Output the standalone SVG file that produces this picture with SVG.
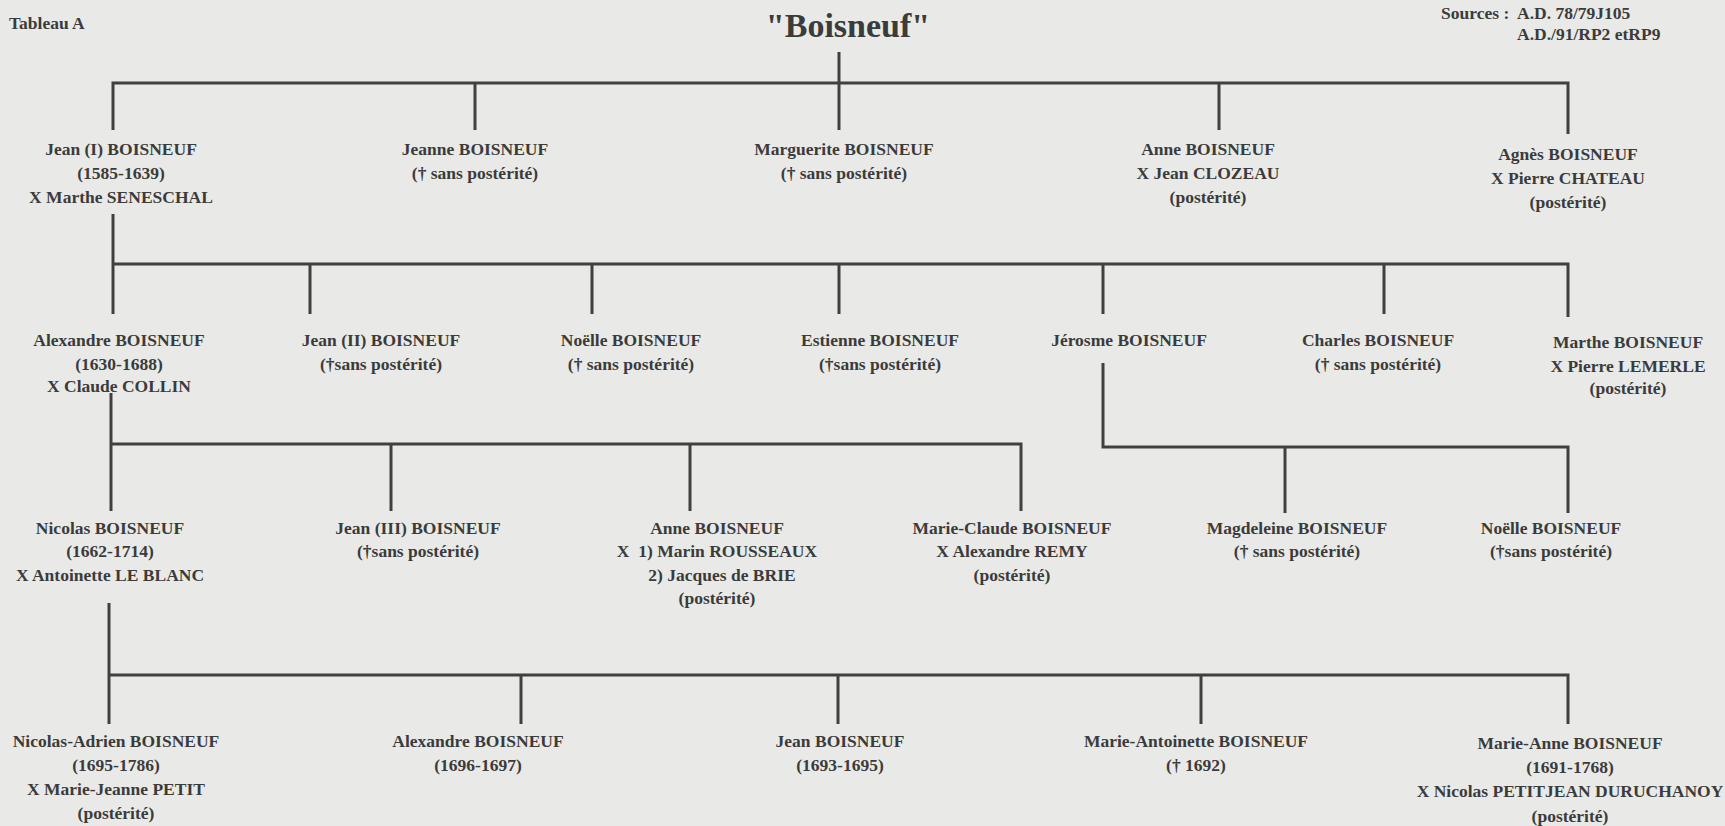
<svg xmlns="http://www.w3.org/2000/svg" width="1725" height="826" viewBox="0 0 1725 826">
<style>
.t{font-family:"Liberation Serif","Times New Roman",serif;font-weight:bold;font-size:17.5px;fill:#3b3b3b;text-anchor:middle}
.l{text-anchor:start}
.title{font-size:34px}
.c{stroke:#404040;stroke-width:3;fill:none}
</style>
<rect width="1725" height="826" fill="#e9eae7"/>
<text class="t l" x="9" y="29">Tableau A</text>
<text class="t title" x="848" y="37">"Boisneuf"</text>
<text class="t l" x="1441" y="19">Sources :</text>
<text class="t l" x="1517" y="19">A.D. 78/79J105</text>
<text class="t l" x="1517" y="40">A.D./91/RP2 etRP9</text>
<g id="connectors" class="c">
<path d="M839 52V130"/>
<path d="M113 130V83H1568V134"/>
<path d="M475 83V130M1219 83V130"/>
<path d="M113 214V314"/>
<path d="M113 264H1568V317"/>
<path d="M310 264V314M592 264V314M839 264V314M1103 264V314M1384 264V314"/>
<path d="M111 393V511"/>
<path d="M111 444H1021V511"/>
<path d="M391 444V511M690 444V511"/>
<path d="M1103 363V447H1568V513"/>
<path d="M1285 447V513"/>
<path d="M109 603V724"/>
<path d="M109 675H1568V724"/>
<path d="M521 676V724M838 676V724M1201 676V724"/>
</g>
<g id="n-jean1" class="t"><text x="121" y="155">Jean (I) BOISNEUF</text><text x="121" y="179">(1585-1639)</text><text x="121" y="203">X Marthe SENESCHAL</text></g>
<g id="n-jeanne" class="t"><text x="475" y="155">Jeanne BOISNEUF</text><text x="475" y="179">(† sans postérité)</text></g>
<g id="n-marguerite" class="t"><text x="844" y="155">Marguerite BOISNEUF</text><text x="844" y="179">(† sans postérité)</text></g>
<g id="n-anne1" class="t"><text x="1208" y="155">Anne BOISNEUF</text><text x="1208" y="179">X Jean CLOZEAU</text><text x="1208" y="203">(postérité)</text></g>
<g id="n-agnes" class="t"><text x="1568" y="160">Agnès BOISNEUF</text><text x="1568" y="184">X Pierre CHATEAU</text><text x="1568" y="208">(postérité)</text></g>
<g id="n-alexandre1" class="t"><text x="119" y="346">Alexandre BOISNEUF</text><text x="119" y="370">(1630-1688)</text><text x="119" y="392">X Claude COLLIN</text></g>
<g id="n-jean2" class="t"><text x="381" y="346">Jean (II) BOISNEUF</text><text x="381" y="370">(†sans postérité)</text></g>
<g id="n-noelle1" class="t"><text x="631" y="346">Noëlle BOISNEUF</text><text x="631" y="370">(† sans postérité)</text></g>
<g id="n-estienne" class="t"><text x="880" y="346">Estienne BOISNEUF</text><text x="880" y="370">(†sans postérité)</text></g>
<g id="n-jerosme" class="t"><text x="1129" y="346">Jérosme BOISNEUF</text></g>
<g id="n-charles" class="t"><text x="1378" y="346">Charles BOISNEUF</text><text x="1378" y="370">(† sans postérité)</text></g>
<g id="n-marthe" class="t"><text x="1628" y="348">Marthe BOISNEUF</text><text x="1628" y="372">X Pierre LEMERLE</text><text x="1628" y="394">(postérité)</text></g>
<g id="n-nicolas" class="t"><text x="110" y="534">Nicolas BOISNEUF</text><text x="110" y="557">(1662-1714)</text><text x="110" y="581">X Antoinette LE BLANC</text></g>
<g id="n-jean3" class="t"><text x="418" y="534">Jean (III) BOISNEUF</text><text x="418" y="557">(†sans postérité)</text></g>
<g id="n-anne2" class="t"><text x="717" y="534">Anne BOISNEUF</text><text x="717" y="557" xml:space="preserve">X  1) Marin ROUSSEAUX</text><text x="722" y="581">2) Jacques de BRIE</text><text x="717" y="604">(postérité)</text></g>
<g id="n-marieclaude" class="t"><text x="1012" y="534">Marie-Claude BOISNEUF</text><text x="1012" y="557">X Alexandre REMY</text><text x="1012" y="581">(postérité)</text></g>
<g id="n-magdeleine" class="t"><text x="1297" y="534">Magdeleine BOISNEUF</text><text x="1297" y="557">(† sans postérité)</text></g>
<g id="n-noelle2" class="t"><text x="1551" y="534">Noëlle BOISNEUF</text><text x="1551" y="557">(†sans postérité)</text></g>
<g id="n-nicolasadrien" class="t"><text x="116" y="747">Nicolas-Adrien BOISNEUF</text><text x="116" y="771">(1695-1786)</text><text x="116" y="795">X Marie-Jeanne PETIT</text><text x="116" y="819">(postérité)</text></g>
<g id="n-alexandre2" class="t"><text x="478" y="747">Alexandre BOISNEUF</text><text x="478" y="771">(1696-1697)</text></g>
<g id="n-jean4" class="t"><text x="840" y="747">Jean BOISNEUF</text><text x="840" y="771">(1693-1695)</text></g>
<g id="n-marieantoinette" class="t"><text x="1196" y="747">Marie-Antoinette BOISNEUF</text><text x="1196" y="771">(† 1692)</text></g>
<g id="n-marieanne" class="t"><text x="1570" y="749">Marie-Anne BOISNEUF</text><text x="1570" y="773">(1691-1768)</text><text x="1570" y="797">X Nicolas PETITJEAN DURUCHANOY</text><text x="1570" y="822">(postérité)</text></g>
</svg>
